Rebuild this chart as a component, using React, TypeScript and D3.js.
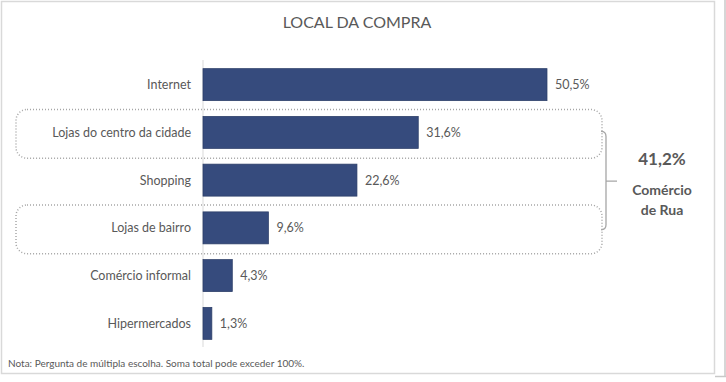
import React from "react";
import * as d3 from "d3";

const categories = ["Internet", "Lojas do centro da cidade", "Shopping", "Lojas de bairro", "Comércio informal", "Hipermercados"];
const values = [50.5, 31.6, 22.6, 9.6, 4.3, 1.3];
const valueLabels = ["50,5%", "31,6%", "22,6%", "9,6%", "4,3%", "1,3%"];
const groupedCategories = ["Lojas do centro da cidade", "Lojas de bairro"];
const groupTotal = "41,2%";
const groupLabel = ["Comércio", "de Rua"];
const title = "LOCAL DA COMPRA";
const note = "Nota: Pergunta de múltipla escolha. Soma total pode exceder 100%.";

const W = 726, H = 382;
const FONT = "Lato, 'Open Sans', sans-serif";
const GRAY = "#595959";

export default function App() {
  const x = d3.scaleLinear().domain([0, 50.5]).range([203, 547]);
  const y = d3.scaleBand().domain(categories).range([61, 347]).paddingInner(0.33).paddingOuter(0.16);
  const bw = y.bandwidth();
  const step = y.step();

  const groupRects = groupedCategories.map((c) => {
    const cy = (y(c) as number) + bw / 2;
    return { top: cy - step / 2 + 1, bottom: cy + step / 2 + 2 };
  });
  const c1 = (y(groupedCategories[0]) as number) + bw / 2;
  const c2 = (y(groupedCategories[1]) as number) + bw / 2;
  const bx = 606;
  const bracketMid = (c1 + c2) / 2 + 1;

  return (
    <svg width={W} height={H} style={{ position: "absolute", left: 0, top: 0 }}>
      <rect x={0} y={0} width={W} height={H} fill="#fff" />
      <rect x={1.5} y={1.5} width={713} height={372} fill="none" stroke="#d9d9d9" strokeWidth={1.5} />
      <line x1={725} y1={0} x2={725} y2={377} stroke="#c8c8c8" strokeWidth={1.5} />
      <line x1={715} y1={376.5} x2={726} y2={376.5} stroke="#c8c8c8" strokeWidth={1.5} />
      <text x={357} y={28} textAnchor="middle" fontFamily={FONT} fontSize={16} fill={GRAY}>{title}</text>

      {groupRects.map((r, i) => (
        <rect key={i} x={16} y={r.top} width={586} height={r.bottom - r.top} rx={11} ry={11}
          fill="none" stroke="#a6a6a6" strokeWidth={1.5} strokeDasharray="1 2" />
      ))}

      <line x1={203} y1={60} x2={203} y2={347} stroke="#d9d9d9" strokeWidth={1} />

      {categories.map((c, i) => {
        const yy = y(c) as number;
        return (
          <g key={c}>
            <rect x={x(0)} y={yy} width={x(values[i]) - x(0)} height={bw} fill="#364b7d" stroke="#2c3e68" strokeWidth={0.75} />
            <text x={191} y={yy + bw / 2} dy="0.35em" textAnchor="end" fontFamily={FONT} fontSize={12.5} fill={GRAY}>{c}</text>
            <text x={x(values[i]) + 8} y={yy + bw / 2} dy="0.35em" fontFamily={FONT} fontSize={12.5} fill={GRAY}>{valueLabels[i]}</text>
          </g>
        );
      })}

      <path d={`M${bx - 5},${c1 - 1} Q${bx},${c1 - 1} ${bx},${c1 + 4} L${bx},${c2 - 3} Q${bx},${c2 + 2} ${bx - 5},${c2 + 2} M${bx},${bracketMid} L${bx + 11},${bracketMid}`}
        fill="none" stroke="#a6a6a6" strokeWidth={1.3} />

      <text x={662} y={165} textAnchor="middle" fontFamily={FONT} fontSize={17} fontWeight="bold" fill={GRAY}>{groupTotal}</text>
      <text x={662} y={195} textAnchor="middle" fontFamily={FONT} fontSize={14} fontWeight="bold" fill={GRAY}>{groupLabel[0]}</text>
      <text x={662} y={215} textAnchor="middle" fontFamily={FONT} fontSize={14} fontWeight="bold" fill={GRAY}>{groupLabel[1]}</text>

      <text x={8} y={367} fontFamily={FONT} fontSize={10} fill={GRAY}>{note}</text>
    </svg>
  );
}
